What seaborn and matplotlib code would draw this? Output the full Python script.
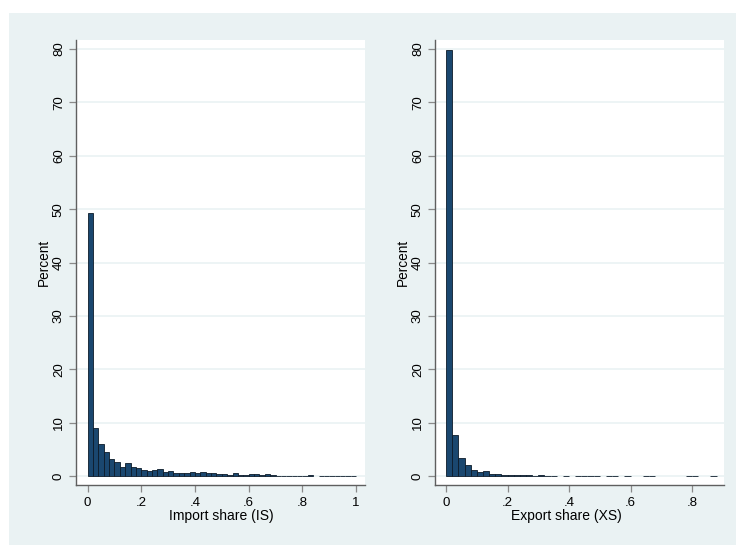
import numpy as np
import pandas as pd
import seaborn as sns
import matplotlib
matplotlib.use("Agg")
import matplotlib.pyplot as plt
from matplotlib.patches import Rectangle

# Percent of observations per bin (bin width 0.02, starting at 0)
bin_width = 0.02
import_share_pct = [49.2, 8.9, 5.9, 4.4, 3.1, 2.7, 1.75, 2.4, 1.7, 1.45,
                    1.1, 1.0, 1.1, 1.25, 0.8, 1.0, 0.6, 0.5, 0.5, 0.7,
                    0.5, 0.75, 0.55, 0.5, 0.45, 0.4, 0.2, 0.6, 0.2, 0.2,
                    0.35, 0.35, 0.25, 0.35, 0.2, 0.08, 0.08, 0.06, 0.06, 0.06,
                    0.06, 0.15, 0.0, 0.05, 0.05, 0.05, 0.05, 0.05, 0.05, 0.05]
export_share_pct = [79.8, 7.6, 3.4, 2.0, 1.2, 0.7, 0.85, 0.45, 0.45, 0.2,
                    0.15, 0.15, 0.15, 0.15, 0.05, 0.15, 0.05, 0.05, 0.0, 0.05,
                    0.0, 0.05, 0.05, 0.05, 0.05, 0.0, 0.05, 0.05, 0.0, 0.05,
                    0.0, 0.0, 0.05, 0.05, 0.0, 0.0, 0.0, 0.0, 0.0, 0.05,
                    0.05, 0.0, 0.0, 0.05]

import_ticks = [0, 0.2, 0.4, 0.6, 0.8, 1.0]
import_tick_labels = ["0", ".2", ".4", ".6", ".8", "1"]
export_ticks = [0, 0.2, 0.4, 0.6, 0.8]
export_tick_labels = ["0", ".2", ".4", ".6", ".8"]
y_ticks = list(range(0, 90, 10))

BAR = "#1a476f"
EDGE = "#0d1b2a"
REGION = "#eaf2f3"
AXIS = "#5f5f5f"

sns.set_theme(style="white")
plt.rcParams["font.family"] = ["Liberation Sans", "DejaVu Sans"]

W, H = 736, 545
fig = plt.figure(figsize=(W / 100, H / 100), dpi=100, facecolor="white")

# graph region background
fig.patches.append(Rectangle((9 / W, 0), (W - 9) / W, (H - 13) / H,
                             transform=fig.transFigure, facecolor=REGION,
                             edgecolor="none", zorder=-10))


def make_frame(values):
    n = len(values)
    mids = (np.arange(n) + 0.5) * bin_width
    return pd.DataFrame({"share": mids, "pct": values}), n * bin_width


def panel(left_px, values, ticks, tick_labels, xlim, title, title_x_px):
    top, bottom = 40, 485
    ax = fig.add_axes([left_px / W, (H - bottom) / H, 289 / W, (bottom - top) / H])
    ax.set_facecolor("white")
    df, upper = make_frame(values)
    sns.histplot(data=df, x="share", weights="pct", binwidth=bin_width,
                 binrange=(0, upper), stat="count",
                 color=BAR, alpha=1, edgecolor=EDGE, linewidth=0.6, ax=ax,
                 zorder=3)
    for p in ax.patches:
        if p.get_height() <= 0:
            p.set_visible(False)
    ax.set_xlim(*xlim)
    ax.set_ylim(-1.7, 81.7)
    ax.set_yticks(y_ticks)
    ax.set_yticklabels([str(v) for v in y_ticks], rotation=90, va="center")
    ax.set_xticks(ticks)
    ax.set_xticklabels(tick_labels)
    ax.grid(False)
    for v in y_ticks:
        ax.axhline(v, color=REGION, lw=1.2, zorder=1)
    for s in ["top", "right"]:
        ax.spines[s].set_visible(False)
    for s in ["left", "bottom"]:
        ax.spines[s].set_color(AXIS)
        ax.spines[s].set_linewidth(1.0)
    ax.tick_params(axis="both", which="major", length=5, width=0.9,
                   color="#8a8a8a", labelsize=9.5, labelcolor="black",
                   direction="out", left=True, bottom=True)
    ax.tick_params(axis="y", pad=3)
    ax.tick_params(axis="x", pad=4)
    ax.set_ylabel("Percent", fontsize=9.8, color="black", va="center")
    ax.yaxis.set_label_coords(-32 / 289, 0.5)
    ax.set_xlabel("")
    fig.text(title_x_px / W, (H - 516) / H, title, ha="center", va="center",
             fontsize=10, color="black")
    return ax


panel(76, import_share_pct, import_ticks, import_tick_labels,
      (-0.043, 1.033), "Import share (IS)", 221.5)
panel(435, export_share_pct, export_ticks, export_tick_labels,
      (-0.036, 0.904), "Export share (XS)", 566.5)

fig.savefig("out.png", dpi=100, facecolor="white")
